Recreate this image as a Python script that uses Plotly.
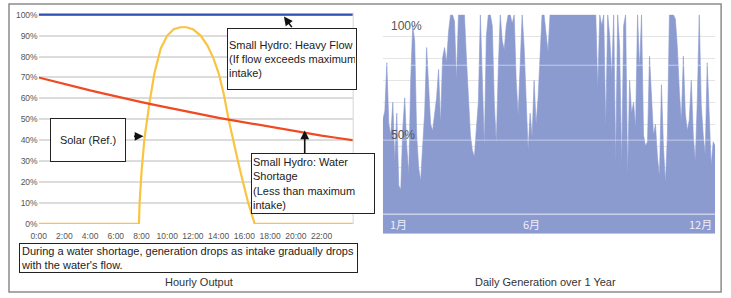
import numpy as np
import plotly.graph_objects as go

# ---------------- data ----------------
hour_ticks = [0, 2, 4, 6, 8, 10, 12, 14, 16, 18, 20, 22]
hour_labels = ["0:00", "2:00", "4:00", "6:00", "8:00", "10:00", "12:00",
               "14:00", "16:00", "18:00", "20:00", "22:00"]
pct_ticks = [0, 10, 20, 30, 40, 50, 60, 70, 80, 90, 100]
pct_labels = ["0%", "10%", "20%", "30%", "40%", "50%", "60%", "70%", "80%", "90%", "100%"]

heavy_hours = [0, 25]
heavy_flow = [100, 100]

shortage_hours = list(range(0, 26))
water_shortage = [70, 68.4, 66.8, 65.3, 63.8, 62.4, 60.9, 59.5, 58.2, 56.9, 55.6,
                  54.3, 53.1, 51.9, 50.7, 49.6, 48.5, 47.4, 46.3, 45.3, 44.2,
                  43.2, 42.2, 41.3, 40.4, 39.5]

solar_hours = [0, 7.8, 7.85, 8.0, 8.23, 8.62, 9.0, 9.5, 10.0, 10.5, 11.0, 11.5,
               12.0, 12.6, 13.15, 13.6, 14.0, 14.4, 14.77, 15.08, 15.5, 15.85,
               16.3, 16.8, 25]
solar = [0, 0, 10, 25, 41, 58, 72, 84, 90, 93, 94, 94,
         93, 90, 85, 79, 72, 62, 50, 41, 30, 21,
         10, 0, 0]

daily_generation = [
    52, 56, 78, 50, 45, 60, 33, 55, 22, 20, 48, 62, 40, 27, 70, 95, 88, 45, 30, 24,
    40, 55, 85, 70, 50, 47, 55, 62, 75, 50, 80, 85, 78, 92, 100, 100, 97, 70, 100, 100,
    100, 100, 80, 60, 45, 38, 35, 48, 60, 100, 70, 40, 90, 100, 100, 95, 60, 41, 75, 100,
    88, 84, 95, 100, 100, 96, 100, 70, 54, 80, 100, 85, 65, 38, 55, 44, 70, 50, 62, 85,
    100, 100, 90, 83, 100, 100, 100, 100, 100, 100, 100, 100, 100, 100, 100, 100, 100, 100,
    100, 100, 100, 100, 100, 100, 100, 100, 100,
    100, 66, 100, 95, 100, 48, 100, 90, 72, 100, 32, 100, 85, 31, 95, 100, 26, 70,
    55, 60, 48, 100, 75, 100, 45, 40, 42, 81, 60, 45, 50, 35, 26, 68, 40, 23, 45,
    100, 100, 100, 98, 85, 65, 51, 81, 55, 47, 52, 70, 45, 33, 60, 100, 59, 45, 36,
    78, 50, 31, 42, 40]
days = np.linspace(1, 365, len(daily_generation))

month_labels = ["1月", "6月", "12月"]

# ---------------- layout helpers ----------------
W, H = 731, 298


def px(x):
    return x / W


def py(y):
    return 1 - y / H


FONT = "Arial, Liberation Sans, sans-serif"
CJK = "Noto Sans CJK JP, sans-serif"

fig = go.Figure()

# left chart
fig.add_trace(go.Scatter(x=solar_hours, y=solar, mode="lines",
                         line=dict(color="#f9c440", width=2.2), xaxis="x", yaxis="y",
                         hoverinfo="skip"))
fig.add_trace(go.Scatter(x=shortage_hours, y=water_shortage, mode="lines",
                         line=dict(color="#f04a22", width=2.2), xaxis="x", yaxis="y",
                         hoverinfo="skip"))
fig.add_trace(go.Scatter(x=heavy_hours, y=heavy_flow, mode="lines",
                         line=dict(color="#2f4fb5", width=2.2), xaxis="x", yaxis="y",
                         hoverinfo="skip"))

# right chart
fig.add_trace(go.Scatter(x=days, y=daily_generation, mode="lines", fill="tozeroy",
                         fillcolor="#8b9bd0", line=dict(color="#8b9bd0", width=0.6),
                         xaxis="x2", yaxis="y2", hoverinfo="skip"))

px_per_pct = 2.15
ytop = 227 - 101 * px_per_pct

fig.update_layout(
    width=W, height=H,
    margin=dict(l=0, r=0, t=0, b=0),
    paper_bgcolor="white", plot_bgcolor="white",
    showlegend=False,
    font=dict(family=FONT, color="#333"),
    xaxis=dict(domain=[px(31), px(349)], range=[0, 24.46],
               tickvals=hour_ticks, ticktext=hour_labels,
               tickfont=dict(size=8.5, color="#555"), ticklabelstandoff=6,
               showgrid=False, zeroline=False, showline=False, ticks=""),
    yaxis=dict(domain=[py(227), py(ytop)], range=[0, 101],
               tickvals=pct_ticks, ticktext=pct_labels,
               tickfont=dict(size=8.5, color="#555"),
               showgrid=True, gridcolor="#dcdcdc", gridwidth=1.6,
               zeroline=False, showline=False, ticks=""),
    xaxis2=dict(domain=[px(379), px(715)], range=[1, 365], anchor="y2",
                showticklabels=False, showgrid=False, zeroline=False, showline=False),
    yaxis2=dict(domain=[py(237), py(12)], range=[0, 100], anchor="x2",
                showticklabels=False, dtick=10, showgrid=True, gridcolor="#e4e4e4",
                gridwidth=1, zeroline=False, showline=False),
)

shapes = []
# right border of left plot
shapes.append(dict(type="line", xref="paper", yref="paper",
                   x0=px(349), x1=px(349), y0=py(227), y1=py(ytop),
                   line=dict(color="#dcdcdc", width=1.2)))
# white lines over the fill
for v, a in [(8.9, 0.8), (42.7, 0.5), (76.9, 0.5)]:
    shapes.append(dict(type="line", xref="paper", yref="y2",
                       x0=px(379), x1=px(715), y0=v, y1=v, layer="above",
                       line=dict(color=f"rgba(255,255,255,{a})", width=1)))
# outer frame
shapes.append(dict(type="rect", xref="paper", yref="paper",
                   x0=px(1), x1=px(721), y0=py(297), y1=py(1),
                   line=dict(color="#8c8c8c", width=1.5)))
fig.update_layout(shapes=shapes)

ann = []


def box(cx, cy, w, h, text, align="left"):
    ann.append(dict(xref="paper", yref="paper", x=px(cx), y=py(cy),
                    xanchor="center", yanchor="middle", text=text, showarrow=False,
                    align=align, valign="middle", width=w, height=h,
                    bgcolor="white", bordercolor="#222", borderwidth=1, borderpad=1,
                    font=dict(size=11, color="#222", family=FONT)))


box(287, 58, 126, 58, "Small Hydro: Heavy Flow<br>(If flow exceeds maximum<br>intake)")
box(81, 141, 72, 40, "Solar (Ref.)", align="center")
box(308, 185.5, 120, 57, "Small Hydro: Water<br>Shortage<br>(Less than maximum<br>intake)")
box(182.5, 262, 335, 26,
    "During a water shortage, generation drops as intake gradually drops<br>with the water's flow.")


def arrow(tx, ty, dx, dy):
    ann.append(dict(xref="paper", yref="paper", x=px(tx), y=py(ty), ax=dx, ay=dy,
                    axref="pixel", ayref="pixel", text="", showarrow=True,
                    arrowhead=2, arrowsize=1.1, arrowwidth=1.6, arrowcolor="#111"))


arrow(279, 14, 9, 12)
arrow(137, 137, -11, 0)
arrow(300, 131, 0, 24)

# captions
ann.append(dict(xref="paper", yref="paper", x=px(193), y=py(287), text="Hourly Output",
                showarrow=False, xanchor="center", yanchor="middle",
                font=dict(size=11, color="#333")))
ann.append(dict(xref="paper", yref="paper", x=px(543), y=py(287),
                text="Daily Generation over 1 Year", showarrow=False,
                xanchor="center", yanchor="middle", font=dict(size=11, color="#333")))

# right chart labels
for v, t in [(100, "100%"), (50, "50%")]:
    ann.append(dict(xref="paper", yref="y2", x=px(385), y=v, text=t, showarrow=False,
                    xanchor="left", yanchor="top", yshift=-2,
                    font=dict(size=12, color="#555")))
for xc, t in zip([395, 529, 700], month_labels):
    ann.append(dict(xref="paper", yref="paper", x=px(xc), y=py(227), text=t,
                    showarrow=False, xanchor="center", yanchor="middle",
                    font=dict(size=11, color="#eef0fa", family=CJK)))

fig.update_layout(annotations=ann)
fig.write_html("out.html")
